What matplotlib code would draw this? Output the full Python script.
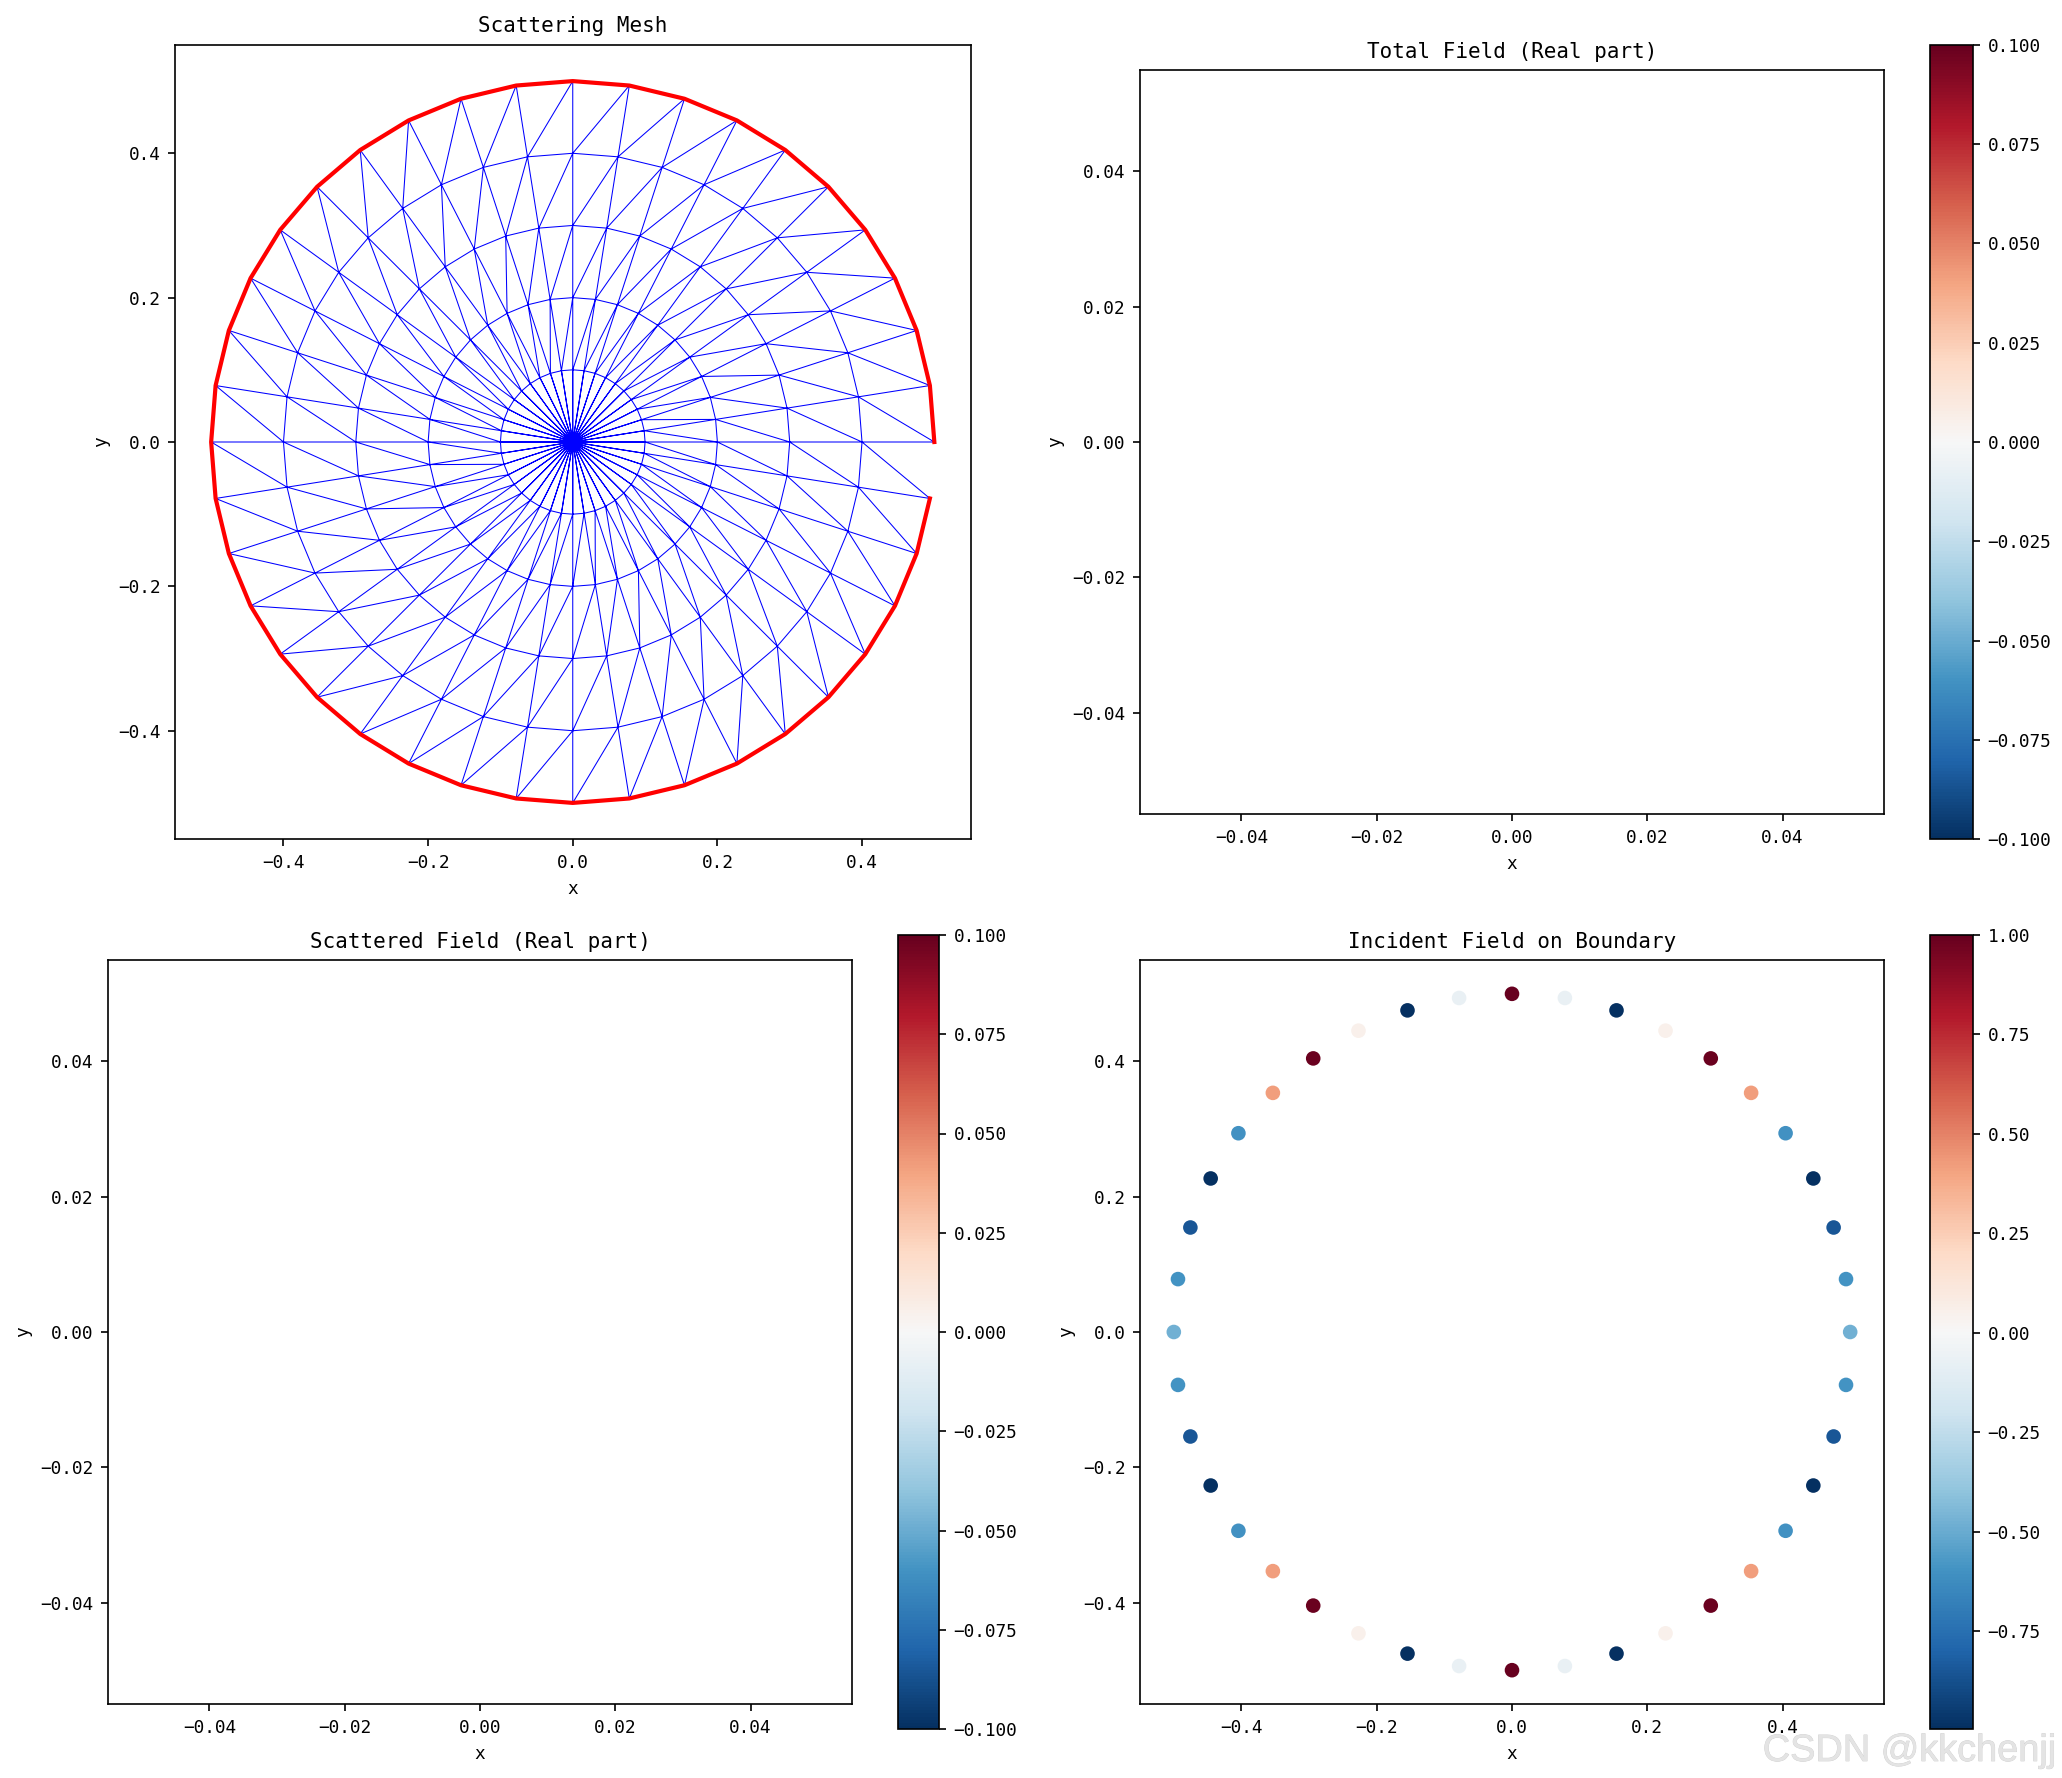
import numpy as np
import matplotlib
matplotlib.use("Agg")
import matplotlib.pyplot as plt
import matplotlib.tri as mtri
import matplotlib.patheffects as pe
from matplotlib.cm import ScalarMappable
from matplotlib.colors import Normalize

plt.rcParams['font.family'] = ['DejaVu Sans Mono']
plt.rcParams['font.size'] = 8.5
plt.rcParams['axes.titlesize'] = 10
plt.rcParams['axes.labelsize'] = 8.5
plt.rcParams['axes.unicode_minus'] = True

W, H = 2062, 1778
DPI = 150

ring_radii = [0.0, 0.1, 0.2, 0.3, 0.4, 0.5]
node_angles_deg = [0, 9, 18, 27, 36, 45, 54, 63, 72, 81, 90, 99, 108, 117, 126, 135, 144, 153, 162, 171,
                   180, 189, 198, 207, 216, 225, 234, 243, 252, 261, 270, 279, 288, 297, 306, 315, 324, 333, 342, 351]
incident_values = [-0.476, -0.59, -0.85, -0.995, -0.60, 0.42, 0.99, 0.055, -0.994, -0.072,
                   1.0, -0.072, -0.994, 0.055, 0.99, 0.42, -0.60, -0.995, -0.85, -0.59,
                   -0.476, -0.59, -0.85, -0.995, -0.60, 0.42, 0.99, 0.055, -0.994, -0.072,
                   1.0, -0.072, -0.994, 0.055, 0.99, 0.42, -0.60, -0.995, -0.85, -0.59]
empty_x = [np.nan]
empty_y = [np.nan]

ang = np.deg2rad(node_angles_deg)
n_a = len(ang)
n_r = len(ring_radii)
X = []
Y = []
for r in ring_radii:
    X.extend(r * np.cos(ang))
    Y.extend(r * np.sin(ang))


def node(j, i):
    return j * n_a + (i % n_a)


triangles = []
for i in range(n_a):
    for j in range(n_r - 1):
        triangles.append((node(j, i), node(j + 1, i), node(j, i + 1)))
        if not (j == n_r - 2 and i == n_a - 1):
            triangles.append((node(j + 1, i), node(j + 1, i + 1), node(j, i + 1)))

bx = ring_radii[-1] * np.cos(ang)
by = ring_radii[-1] * np.sin(ang)


def box(l, t, r, b):
    return [l / W, 1 - b / H, (r - l) / W, (b - t) / H]


fig = plt.figure(figsize=(W / DPI, H / DPI), dpi=DPI)

ax1 = fig.add_axes(box(175, 45, 970.5, 839))
tri = mtri.Triangulation(X, Y, triangles)
ax1.triplot(tri, 'b-', linewidth=0.5)
ax1.plot(bx, by, 'r-', linewidth=2)
ax1.set_xlim(-0.55, 0.55)
ax1.set_ylim(-0.55, 0.55)
ax1.set_title('Scattering Mesh')
ax1.set_xlabel('x')
ax1.set_ylabel('y')

panels = [
    ((1140, 70, 1884, 814), (1930, 45, 1973, 839), 'Total Field (Real part)'),
    ((108, 960, 852, 1704), (898, 935, 939, 1729), 'Scattered Field (Real part)'),
]
for abox, cbox, title in panels:
    ax = fig.add_axes(box(*abox))
    ax.scatter(empty_x, empty_y, c=[0.0], cmap='RdBu_r', vmin=-0.1, vmax=0.1)
    ax.set_xlim(-0.055, 0.055)
    ax.set_ylim(-0.055, 0.055)
    ax.set_title(title)
    ax.set_xlabel('x')
    ax.set_ylabel('y')
    cax = fig.add_axes(box(*cbox))
    fig.colorbar(ScalarMappable(Normalize(-0.1, 0.1), 'RdBu_r'), cax=cax)

ax4 = fig.add_axes(box(1140, 960, 1884, 1704))
sc = ax4.scatter(bx, by, c=incident_values, cmap='RdBu_r')
ax4.set_xlim(-0.55, 0.55)
ax4.set_ylim(-0.55, 0.55)
ax4.set_title('Incident Field on Boundary')
ax4.set_xlabel('x')
ax4.set_ylabel('y')
cax4 = fig.add_axes(box(1930, 935, 1973, 1729))
fig.colorbar(sc, cax=cax4)

wm = fig.text(2056 / W, 1 - 1761 / H, 'CSDN @kkchenjj', ha='right', va='baseline',
              family='Liberation Sans', fontsize=18.2, color='#e4e4e4')
wm.set_path_effects([pe.withStroke(linewidth=0.35, foreground='#d0d0d0')])

fig.savefig('out.png', dpi=DPI)
